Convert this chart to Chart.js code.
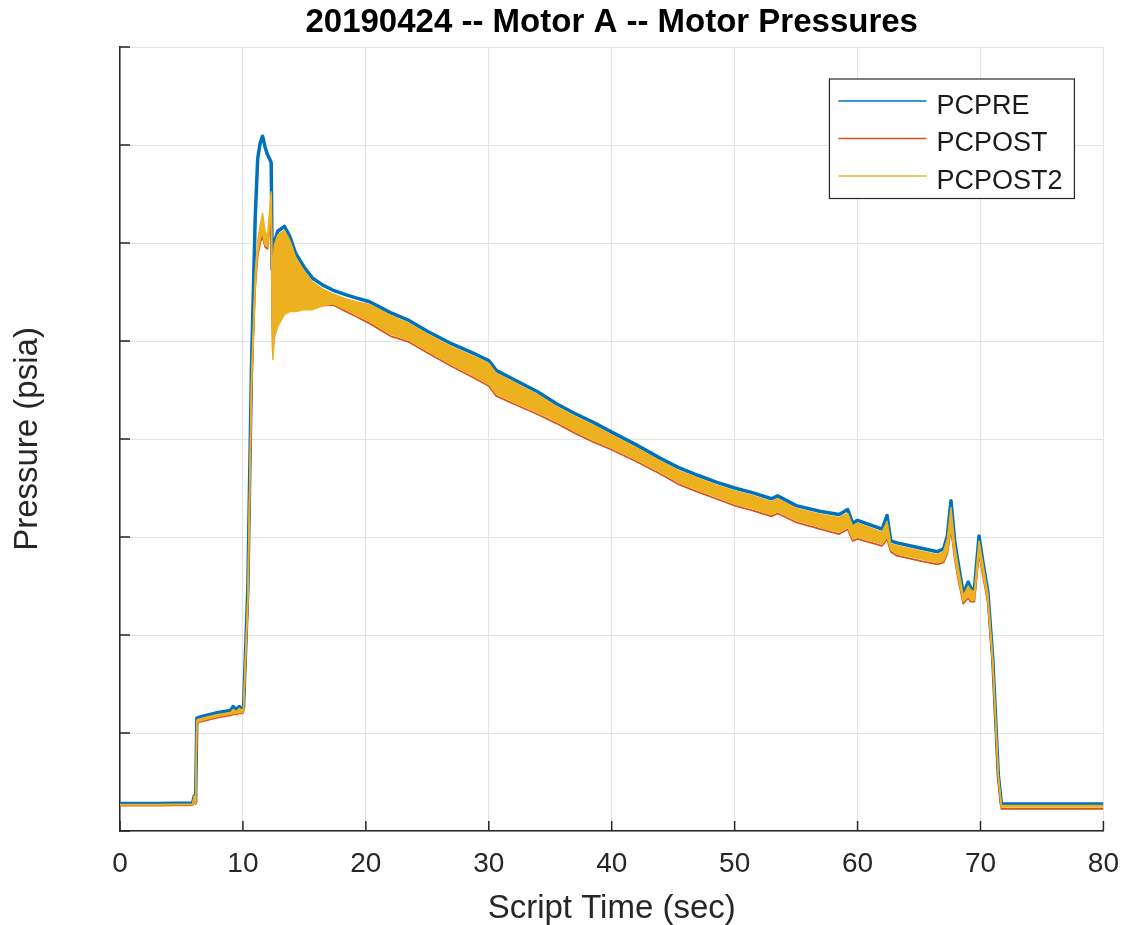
<!DOCTYPE html>
<html>
<head>
<meta charset="utf-8">
<title>20190424 -- Motor A -- Motor Pressures</title>
<script src="https://cdn.jsdelivr.net/npm/chart.js@4.4.1/dist/chart.umd.min.js"></script>
<style>
  html, body { margin: 0; padding: 0; background: #fff; }
  canvas { display: block; }
</style>
</head>
<body>
<canvas id="g-pressures" width="1135" height="925"></canvas>
<script>
// script time (sec), shared by all traces
const scriptTime = [0, 3, 5.9, 6.05, 6.15, 6.25, 6.4, 7, 8, 9,
    9.2, 9.45, 9.7, 9.95, 10.05, 10.4, 10.7, 11, 11.2, 11.4,
    11.6, 11.8, 12, 12.2, 12.3, 12.38, 12.43, 12.56, 12.83, 13.37,
    13.8, 14.3, 15, 15.67, 16.5, 17.3, 18.4, 19.2, 20.3, 22,
    23.5, 25, 27, 29, 30, 30.6, 32, 34, 35.5, 37,
    38.5, 40, 42, 44, 45.4, 47, 48.5, 50, 51.5, 53,
    53.5, 55, 57, 58.5, 59.2, 59.6, 60, 62, 62.4, 62.7,
    63.2, 65, 66.5, 67, 67.3, 67.6, 67.9, 68.2, 68.6, 69,
    69.2, 69.5, 69.88, 70.2, 70.6, 71, 71.45, 71.7, 74, 77, 80];

// pressures (psia)
const pcpre = [28, 28, 28.5, 36, 29.5, 115, 116, 118, 121, 123,
    127, 124, 127, 124, 126, 248, 476, 626, 686, 702,
    709, 698, 690, 685, 682, 573, 578, 601, 612, 617,
    607, 589, 575, 564, 557, 552, 547, 544, 540, 529,
    521, 510, 497, 486, 480, 470, 461, 448, 436, 426,
    417, 407, 394, 380, 371, 363, 356, 350, 345, 339,
    342, 332, 326, 323, 328, 314, 317, 308, 322, 296,
    294, 289, 285, 288, 301, 337, 296, 272, 242, 254,
    248, 246, 301, 274, 244, 176, 57, 27.5, 27.5, 27.5, 27.5];

const pcpost = [26, 26, 26.5, 33, 27.5, 110, 111, 113, 116, 118,
    119, 119, 120, 120, 122, 234, 452, 555, 587, 600,
    607, 596, 594, 620, 636, 525, 490, 510, 520, 530,
    532, 532, 534, 534, 536, 537, 530, 525, 518, 505,
    499, 488, 474, 461, 454, 444, 436, 425, 416, 406,
    397, 389, 377, 364, 354, 346, 339, 332, 327, 321,
    324, 315, 308, 303, 308, 296, 298, 291, 298, 285,
    281, 276, 272, 274, 283, 308, 278, 256, 232, 238,
    234, 234, 283, 260, 233, 168, 53, 22.5, 22.5, 22.5, 22.5];

// PCPOST2 is very noisy: upper and lower edge of its band
const pcpost2 = [27, 27, 27.5, 36, 29, 113, 114, 116, 119, 121,
    124, 122, 125, 123, 125, 240, 462, 568, 602, 618,
    630, 612, 606, 638, 652, 560, 575, 598, 608, 613,
    603, 585, 571, 560, 553, 548, 543, 540, 537, 526,
    518, 507, 494, 483, 477, 467, 458, 445, 433, 423,
    414, 404, 391, 377, 368, 360, 353, 347, 342, 336,
    339, 329, 323, 320, 324, 311, 314, 305, 316, 293,
    291, 286, 282, 285, 298, 330, 292, 268, 240, 250,
    246, 244, 296, 272, 242, 175, 57, 26, 26, 26, 26];

const pcpost2Min = [26.5, 26.5, 27, 34, 28, 111, 112, 114, 117, 119,
    120, 120, 121, 121, 123, 236, 456, 558, 590, 604,
    610, 598, 596, 622, 638, 520, 481, 503, 515, 527,
    530, 530, 532, 532, 536, 538, 532, 527, 520, 507,
    501, 490, 476, 463, 456, 446, 438, 427, 418, 408,
    399, 391, 379, 366, 356, 348, 341, 334, 329, 323,
    326, 317, 310, 305, 310, 298, 300, 293, 300, 287,
    283, 278, 274, 276, 285, 310, 280, 258, 234, 240,
    236, 236, 285, 262, 235, 170, 55, 24.5, 24.5, 24.5, 24.5];

const timeTicks = [0, 10, 20, 30, 40, 50, 60, 70, 80];
const pressureTicks = [0, 100, 200, 300, 400, 500, 600, 700, 800];

const family = "'Liberation Sans', Arial, Helvetica, sans-serif";
const axisColor = '#262626';
const gridColor = '#e2e2e2';

Chart.defaults.font.family = family;

function toPoints(values) {
    return scriptTime.map((t, i) => ({ x: t, y: values[i] }));
}

// matlab style ticks, pointing into the axes
const inwardTicks = {
    id: 'inwardTicks',
    afterDatasetsDraw(chart) {
        const { ctx, chartArea, scales: { x, y } } = chart;
        ctx.save();
        ctx.strokeStyle = axisColor;
        ctx.lineWidth = 1.5;
        ctx.beginPath();
        x.ticks.forEach(t => {
            const px = x.getPixelForValue(t.value);
            ctx.moveTo(px, chartArea.bottom);
            ctx.lineTo(px, chartArea.bottom - 10);
        });
        y.ticks.forEach(t => {
            const py = y.getPixelForValue(t.value);
            ctx.moveTo(chartArea.left, py);
            ctx.lineTo(chartArea.left + 10, py);
        });
        ctx.stroke();
        ctx.restore();
    }
};

// boxed legend in the upper right corner of the axes
const boxLegend = {
    id: 'boxLegend',
    afterDraw(chart) {
        const { ctx, chartArea } = chart;
        const items = chart.data.datasets.filter(d => d.inLegend !== false);
        const width = 245, rowH = 37.5;
        const height = items.length * rowH + 7;
        const right = chartArea.right - 29;
        const top = chartArea.top + 32;
        const left = right - width;
        ctx.save();
        ctx.fillStyle = '#fff';
        ctx.fillRect(left, top, width, height);
        ctx.strokeStyle = axisColor;
        ctx.lineWidth = 1.2;
        ctx.strokeRect(left, top, width, height);
        ctx.font = `27px ${family}`;
        ctx.textBaseline = 'alphabetic';
        items.forEach((d, i) => {
            const cy = top + 22 + i * rowH;
            ctx.strokeStyle = d.borderColor;
            ctx.lineWidth = 1.5;
            ctx.beginPath();
            ctx.moveTo(left + 9, cy);
            ctx.lineTo(left + 97, cy);
            ctx.stroke();
            ctx.fillStyle = '#1a1a1a';
            ctx.fillText(d.label, left + 107, cy + 12.5);
        });
        ctx.restore();
    }
};

const ctx = document.getElementById('g-pressures').getContext('2d');

const config = {
    type: 'line',
    data: {
        datasets: [
            {
                label: 'PCPRE',
                data: toPoints(pcpre),
                borderColor: '#0072BD',
                borderWidth: 3.5,
                order: 4
            },
            {
                label: 'PCPOST',
                data: toPoints(pcpost),
                borderColor: '#D95319',
                borderWidth: 1.8,
                order: 3
            },
            {
                label: 'PCPOST2',
                data: toPoints(pcpost2),
                borderColor: '#EDB120',
                borderWidth: 1.5,
                order: 1
            },
            {
                label: 'PCPOST2 min',
                data: toPoints(pcpost2Min),
                borderColor: '#EDB120',
                backgroundColor: '#EDB120',
                borderWidth: 1.5,
                fill: 2,
                order: 2,
                inLegend: false
            }
        ]
    },
    options: {
        responsive: false,
        animation: false,
        devicePixelRatio: 1,
        layout: { padding: { left: 0, right: 28, top: 0, bottom: 0 } },
        elements: {
            point: { radius: 0, hoverRadius: 0 },
            line: { tension: 0, borderJoinStyle: 'round' }
        },
        plugins: {
            legend: { display: false },
            tooltip: { enabled: false },
            title: {
                display: true,
                fullSize: false,
                text: '20190424 -- Motor A -- Motor Pressures',
                color: '#000',
                font: { size: 33, weight: 'bold', lineHeight: 1.2 },
                padding: { top: 3, bottom: 4.4 }
            }
        },
        scales: {
            x: {
                type: 'linear',
                min: 0,
                max: 80,
                afterBuildTicks: s => { s.ticks = timeTicks.map(v => ({ value: v })); },
                ticks: {
                    padding: 16,
                    color: axisColor,
                    font: { size: 28 },
                    maxRotation: 0,
                    autoSkip: false
                },
                grid: { color: gridColor, lineWidth: 1, drawTicks: false },
                border: { color: axisColor, width: 1.5 },
                title: {
                    display: true,
                    text: 'Script Time (sec)',
                    color: axisColor,
                    font: { size: 33, lineHeight: 1 },
                    padding: { top: 0, bottom: 0 }
                },
                afterFit: s => { s.height = 94; }
            },
            y: {
                type: 'linear',
                min: 0,
                max: 800,
                afterBuildTicks: s => { s.ticks = pressureTicks.map(v => ({ value: v })); },
                ticks: { display: false },
                grid: { color: gridColor, lineWidth: 1, drawTicks: false },
                border: { color: axisColor, width: 1.5 },
                title: {
                    display: true,
                    text: 'Pressure (psia)',
                    color: axisColor,
                    font: { size: 33, lineHeight: 1 },
                    padding: { top: 11.5, bottom: 0 }
                },
                afterFit: s => { s.width = 120; }
            }
        }
    },
    plugins: [inwardTicks, boxLegend]
};

const grafica = new Chart(ctx, config);
</script>
</body>
</html>
